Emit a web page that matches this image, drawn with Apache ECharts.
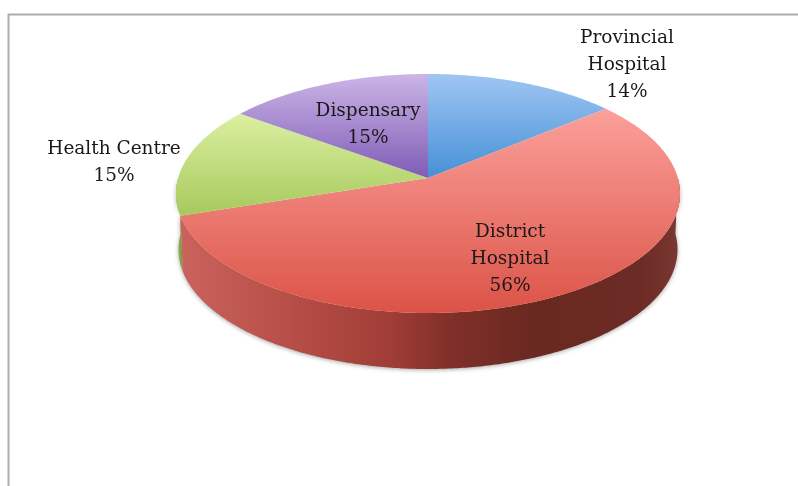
<!DOCTYPE html>
<html>
<head>
<meta charset="utf-8">
<style>html,body{margin:0;padding:0;background:#fff}#c{width:798px;height:486px}</style>
<script src="https://cdn.jsdelivr.net/npm/echarts@6/dist/echarts.min.js"></script>
</head>
<body>
<div id="c"></div>
<script>
const categories = ['Provincial\nHospital', 'District\nHospital', 'Health Centre', 'Dispensary'];
const shares = [14, 56, 15, 15];

// Appearance, kept apart from the data
const topGradients = [
  [74, 178, '#a0c6f2', '#4590d6'],
  [105, 313, '#fba29c', '#dc5347'],
  [113, 216, '#dcf0a2', '#a6c95c'],
  [74, 178, '#cbb5e6', '#7f5cb6']
];
const wallStops = [
  [[0, '#8fb045'], [1, '#8fb045']],
  [[0, '#c9635c'], [0.2, '#b9504a'], [0.42, '#a03d36'], [0.55, '#7e2f28'], [0.72, '#692820'], [0.92, '#6c2b24'], [1, '#7a3733']],
  [[0, '#8fb045'], [1, '#8fb045']],
  [[0, '#7f5cb6'], [1, '#7f5cb6']]
];
const wallLayer = [1, 3, 2, 1];
const labelPlaces = [[627, 65], [510, 259], [114, 163], [368, 125]];

// Perspective projection of the pie disc
const cx = 428, apexY = 178, bx = 249.9, ay = 117.5, k = 0.1297, depth = 56, bottomScale = 0.99;
const total = shares.reduce((a, b) => a + b, 0);
function project(theta, drop, sx) {
  const u = Math.sin(theta), v = Math.cos(theta), d = 1 + k * v;
  return [cx + sx * bx * u / d, apexY - ay * v / d + drop];
}
function sliceAngles(index) {
  let before = 0;
  for (let i = 0; i < index; i++) before += shares[i];
  return [before / total * 2 * Math.PI, (before + shares[index]) / total * 2 * Math.PI];
}
function rim(a0, a1, drop, sx) {
  const pts = [], n = Math.max(2, Math.ceil((a1 - a0) / 0.01));
  for (let i = 0; i <= n; i++) pts.push(project(a0 + (a1 - a0) * i / n, drop, sx));
  return pts;
}
function linear(x, y, x2, y2, stops) {
  return { type: 'linear', x, y, x2, y2, global: true,
    colorStops: stops.map(s => ({ offset: s[0], color: s[1] })) };
}

function renderWall(params) {
  const range = sliceAngles(params.dataIndex);
  // Only the front half of the side wall can be seen
  const a0 = Math.max(range[0], Math.PI / 2), a1 = Math.min(range[1], Math.PI * 1.5);
  if (a1 <= a0) return null;
  const pts = rim(a0, a1, 0, 1).concat(rim(a0, a1, depth, bottomScale).reverse());
  return {
    type: 'polygon', z2: wallLayer[params.dataIndex],
    shape: { points: pts },
    style: {
      fill: linear(180, 0, 680, 0, wallStops[params.dataIndex]),
      shadowBlur: 4, shadowColor: 'rgba(60,60,60,0.45)', shadowOffsetY: 1
    }
  };
}
function renderTop(params) {
  const [a0, a1] = sliceAngles(params.dataIndex);
  const g = topGradients[params.dataIndex];
  const pts = [[cx, apexY]].concat(rim(a0, a1, 0, 1));
  return {
    type: 'polygon', shape: { points: pts },
    style: { fill: linear(0, g[0], 0, g[1], [[0, g[2]], [1, g[3]]]) }
  };
}
function renderLabel(params, api) {
  const p = labelPlaces[params.dataIndex];
  return {
    type: 'text', x: p[0], y: p[1],
    style: {
      text: categories[params.dataIndex] + '\n' + api.value(0) + '%',
      fill: '#1c1819', font: '18.5px "DejaVu Serif"', lineHeight: 27,
      align: 'center', verticalAlign: 'middle'
    }
  };
}
const seriesData = shares.map((v, i) => ({ name: categories[i], value: [v] }));
function layer(renderItem, z) {
  return { type: 'custom', coordinateSystem: 'none', renderItem, data: seriesData, z, silent: true, animation: false };
}

const chart = echarts.init(document.getElementById('c'), null, { renderer: 'canvas' });
chart.setOption({
  backgroundColor: '#ffffff',
  animation: false,
  graphic: [{
    type: 'polyline', silent: true,
    shape: { points: [[8.5, 486], [8.5, 14.5], [798, 14.5]] },
    style: { stroke: '#adadad', lineWidth: 2, fill: 'none' }
  }],
  series: [layer(renderWall, 1), layer(renderTop, 2), layer(renderLabel, 3)]
});
</script>
</body>
</html>
